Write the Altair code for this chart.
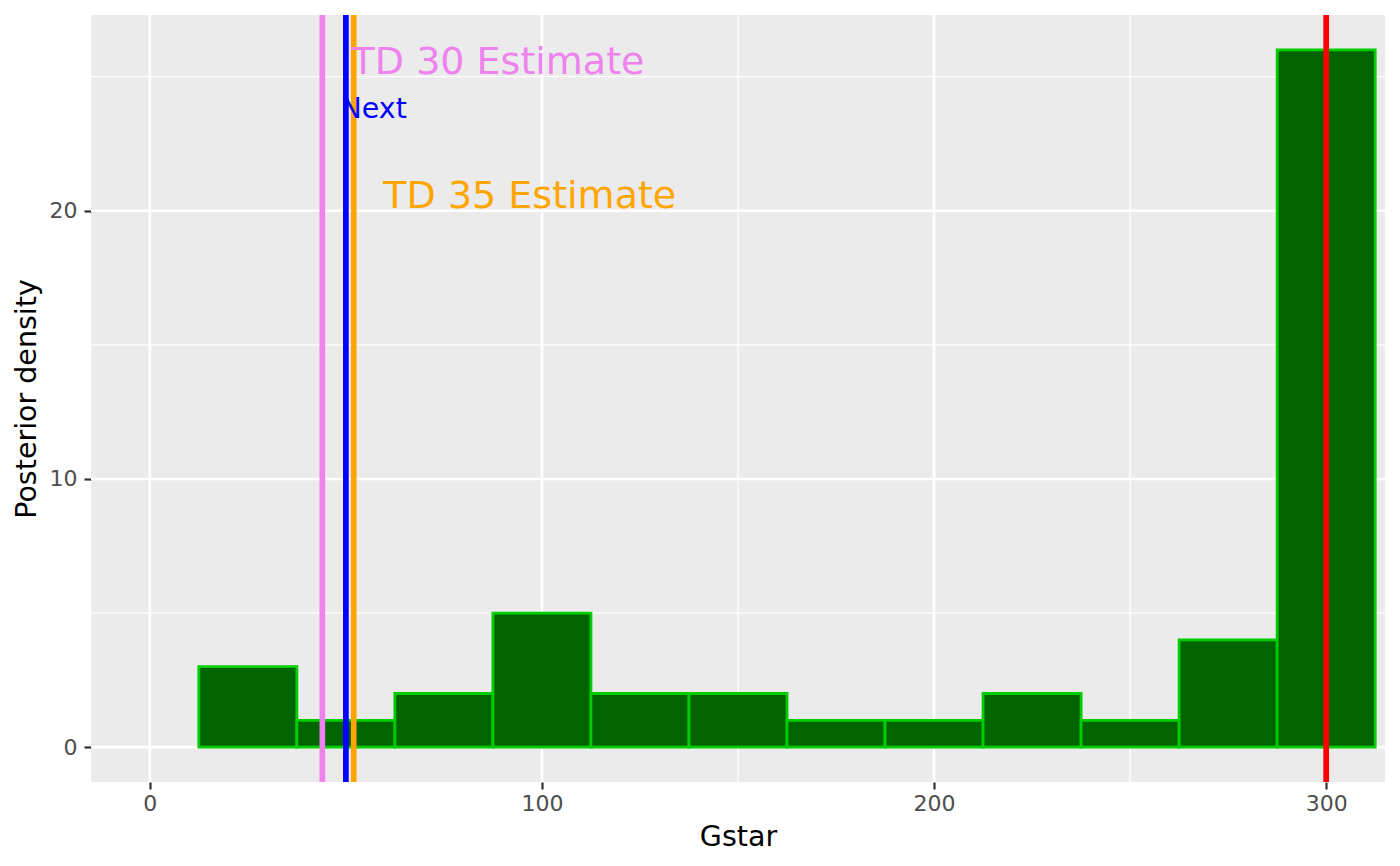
import altair as alt
import pandas as pd

# ---------------- data ----------------
bin_centers = [25, 50, 75, 100, 125, 150, 175, 200, 225, 250, 275, 300]
density = [3, 1, 2, 5, 2, 2, 1, 1, 2, 1, 4, 26]
bin_width = 25

vline_x = [44, 50, 52, 300]
vline_names = ["TD 30", "Next", "TD 35", "True"]

label_text = ["TD 30 Estimate", "Next", "TD 35 Estimate"]
label_x = [88.8, 57.1, 96.9]
label_y = [25.1, 23.45, 20.1]

x_ticks = [0, 100, 200, 300]
x_minor = [50, 150, 250]
y_ticks = [0, 10, 20]
y_minor = [5, 15, 25]

X_DOMAIN = [-15, 315]
Y_DOMAIN = [-1.3, 27.3]

# ---------------- styles ----------------
FONT = "DejaVu Sans"
vline_colors = {"TD 30": "#EE82EE", "Next": "#0000FF", "TD 35": "#FFA500", "True": "#FF0000"}
label_colors = {"TD 30 Estimate": "#EE82EE", "Next": "#0000FF", "TD 35 Estimate": "#FFA500"}
label_sizes = {"TD 30 Estimate": 38, "Next": 28.5, "TD 35 Estimate": 38}

W, H = 1294, 767

xscale = alt.Scale(domain=X_DOMAIN, nice=False, zero=False)
yscale = alt.Scale(domain=Y_DOMAIN, nice=False, zero=False)

x_axis = alt.Axis(
    values=x_ticks, grid=False, domain=False, tickColor="#333333", tickWidth=2.2,
    tickSize=7, labelFontSize=22, labelColor="#4D4D4D", labelFont=FONT,
    labelPadding=4, title="Gstar", titleFontSize=28.5, titleFont=FONT,
    titleFontWeight="normal", titleColor="#000000", titleBaseline="alphabetic",
    titleY=63, labelFlush=False,
)
y_axis = alt.Axis(
    values=y_ticks, grid=False, domain=False, tickColor="#333333", tickWidth=2.2,
    tickSize=7, labelFontSize=22, labelColor="#4D4D4D", labelFont=FONT,
    labelPadding=7, title="Posterior density", titleFontSize=28.5, titleFont=FONT,
    titleFontWeight="normal", titleColor="#000000", titleBaseline="alphabetic",
    titleAngle=270, titleX=-56, titleY=H / 2, titleAlign="center",
)

# grid lines
gx_major = alt.Chart(pd.DataFrame({"x": x_ticks})).mark_rule(
    color="white", strokeWidth=2.6).encode(x=alt.X("x:Q", scale=xscale, axis=x_axis))
gx_minor = alt.Chart(pd.DataFrame({"x": x_minor})).mark_rule(
    color="white", strokeWidth=1.3).encode(x=alt.X("x:Q", scale=xscale, axis=x_axis))
gy_major = alt.Chart(pd.DataFrame({"y": y_ticks})).mark_rule(
    color="white", strokeWidth=2.6).encode(y=alt.Y("y:Q", scale=yscale, axis=y_axis))
gy_minor = alt.Chart(pd.DataFrame({"y": y_minor})).mark_rule(
    color="white", strokeWidth=1.3).encode(y=alt.Y("y:Q", scale=yscale, axis=y_axis))

# histogram bars
hist_df = pd.DataFrame({"center": bin_centers, "density": density})
hist_df["x"] = hist_df["center"] - bin_width / 2
hist_df["x2"] = hist_df["center"] + bin_width / 2
bars = alt.Chart(hist_df).mark_rect(
    fill="#006400", stroke="#00CD00", strokeWidth=2.8
).encode(
    x=alt.X("x:Q", scale=xscale, axis=x_axis),
    x2="x2:Q",
    y=alt.Y("density:Q", scale=yscale, axis=y_axis),
    y2=alt.datum(0),
)

# vertical lines
vl_df = pd.DataFrame({"x": vline_x, "name": vline_names})
vl_df["col"] = vl_df["name"].map(vline_colors)
vlines = alt.Chart(vl_df).mark_rule(strokeWidth=5.7).encode(
    x=alt.X("x:Q", scale=xscale, axis=x_axis),
    color=alt.Color("col:N", scale=None),
)

# text labels
texts = []
for t, xv, yv in zip(label_text, label_x, label_y):
    df = pd.DataFrame({"x": [xv], "y": [yv], "t": [t]})
    texts.append(
        alt.Chart(df).mark_text(
            font=FONT, fontSize=label_sizes[t], color=label_colors[t],
            align="center", baseline="alphabetic",
        ).encode(
            x=alt.X("x:Q", scale=xscale, axis=x_axis),
            y=alt.Y("y:Q", scale=yscale, axis=y_axis),
            text="t:N",
        )
    )

chart = alt.layer(gx_minor, gy_minor, gx_major, gy_major, bars, vlines, *texts).properties(
    width=W, height=H,
    autosize=alt.AutoSizeParams(type="none"),
    padding={"left": 83, "top": 7, "right": 7, "bottom": 80},
    background="white",
).configure_view(fill="#EBEBEB", stroke=None)

chart.save("out.html", embed_options={"renderer": "svg", "actions": False})
